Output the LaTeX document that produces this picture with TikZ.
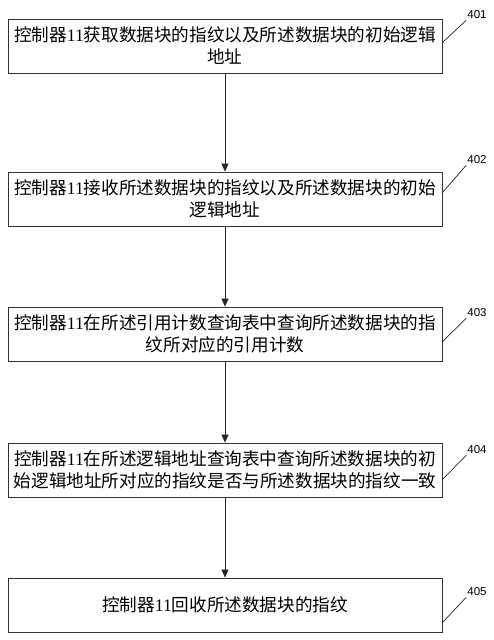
\documentclass[tikz,border=0pt]{standalone}
\usepackage{fontspec}
\setmainfont{Noto Sans CJK SC}
\newfontfamily\latinfont{Liberation Serif}
\newfontfamily\labelfont{Liberation Sans}
\usetikzlibrary{arrows.meta}
\newcommand{\ctrl}{控制器{\latinfont 11}}

\begin{document}
\begin{tikzpicture}[
        x=1pt, y=-1pt,
        stepbox/.style={rectangle, draw=black!80, line width=0.8pt, minimum width=434pt, minimum height=54pt, align=center, inner sep=0pt, font=\fontsize{17.6}{22}\selectfont},
        arrow/.style={-{Triangle[length=8pt,width=7pt]}, line width=0.7pt, black!85},
        tag/.style={font=\labelfont\fontsize{11.5}{13}\selectfont, inner sep=1pt},
        leader/.style={line width=0.7pt, black!85}
    ]
        \useasboundingbox (0,0) rectangle (494,640);

        % Vertical stack of steps
        \node[stepbox] (s401) at (225, 46) {\ctrl 获取数据块的指纹以及所述数据块的初始逻辑\\地址};

        \node[stepbox] (s402) at (225, 199) {\ctrl 接收所述数据块的指纹以及所述数据块的初始\\逻辑地址};

        \node[stepbox] (s403) at (225, 334) {\ctrl 在所述引用计数查询表中查询所述数据块的指\\纹所对应的引用计数};

        \node[stepbox] (s404) at (225, 470) {\ctrl 在所述逻辑地址查询表中查询所述数据块的初\\始逻辑地址所对应的指纹是否与所述数据块的指纹一致};

        \node[stepbox] (s405) at (225, 605) {\ctrl 回收所述数据块的指纹};

        % Simple vertical arrows
        \draw[arrow] (s401) -- (s402);
        \draw[arrow] (s402) -- (s403);
        \draw[arrow] (s403) -- (s404);
        \draw[arrow] (s404) -- (s405);

        % Step numbers with leader lines
        \node[tag] (n401) at (477, 15) {401};
        \node[tag] (n402) at (477, 160) {402};
        \node[tag] (n403) at (477, 313) {403};
        \node[tag] (n404) at (477, 450) {404};
        \node[tag] (n405) at (477, 592) {405};

        \coordinate (e401) at (442, 43);
        \coordinate (e402) at (442, 193);
        \coordinate (e403) at (442, 342);
        \coordinate (e404) at (442, 480);
        \coordinate (e405) at (442, 623);

        \draw[leader] (e401) -- (n401.south west);
        \draw[leader] (e402) -- (n402.south west);
        \draw[leader] (e403) -- (n403.south west);
        \draw[leader] (e404) -- (n404.south west);
        \draw[leader] (e405) -- (n405.south west);

    \end{tikzpicture}
\end{document}
